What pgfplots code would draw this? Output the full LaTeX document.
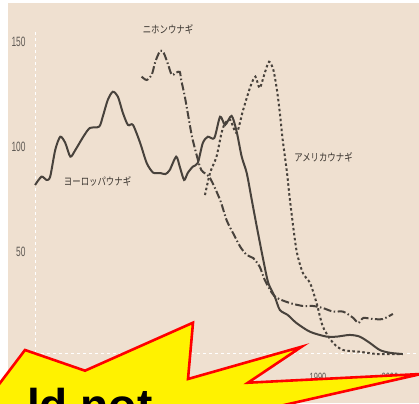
\documentclass[border=0pt]{standalone}
\usepackage{fontspec}
\setmainfont{Liberation Sans}
\newfontfamily\jpfont[FakeStretch=0.8]{Noto Sans CJK JP}
\newfontfamily\narrowfont[FakeStretch=0.62]{Liberation Sans}
\usepackage{pgfplots}
\pgfplotsset{compat=1.18}
\definecolor{bg}{RGB}{239,224,208}
\definecolor{ink}{RGB}{72,66,60}
\definecolor{lbl}{RGB}{55,50,45}
\definecolor{tickc}{RGB}{95,90,85}
\begin{document}
\begin{tikzpicture}[x=1pt,y=1pt]
\useasboundingbox (0,0) rectangle (419,403);
\clip (0,0) rectangle (419,403);
\fill[white] (0,0) rectangle (419,403);
\fill[bg] (8,0) rectangle (419,400);
\begin{axis}[
  at={(35pt,49.5pt)}, anchor=south west, scale only axis,
  width=384pt, height=323.5pt,
  xmin=1950.69, xmax=2004.03, ymin=1.67, ymax=155.71,
  axis x line=bottom, axis y line=left,
  axis line style={white, dashed, line width=0.8pt, -},
  ytick={50,100,150}, xtick={1990,2000},
  xticklabels={1990,2000},
  major tick length=0pt,
  /pgf/number format/assume math mode=true,
  yticklabel style={font=\narrowfont\fontsize{13.5}{13.5}\selectfont, text=tickc, anchor=east, xshift=-6pt},
  xticklabel style={font=\narrowfont\fontsize{12}{12}\selectfont, text=tickc, anchor=north, yshift=-16pt},
  clip=false,
]
% European eel (solid)
\addplot[ink, line width=2pt, smooth, tension=0.45] coordinates {
(1950.7,81.9) (1951.6,85.9) (1952.3,84.3) (1952.8,85.9) (1953.5,98.6) (1954.2,104.9)
(1954.9,101.9) (1955.6,95.4) (1956.3,98.6) (1957.4,104.9) (1958.3,109.0) (1959.6,109.7)
(1960.1,114.4) (1960.8,122.4) (1961.5,126.3) (1962.2,124.0) (1962.9,116.2) (1963.6,110.5)
(1964.3,110.5) (1965.3,101.9) (1966.2,92.4) (1967.1,87.8) (1968.1,87.6) (1968.8,87.1)
(1969.4,89.0) (1970.3,95.4) (1970.8,90.6) (1971.4,84.3) (1971.9,87.6) (1972.6,90.6)
(1973.3,92.4) (1974.0,101.9) (1974.7,104.9) (1975.6,104.3) (1976.4,114.4) (1977.1,110.5)
(1978.0,114.8) (1978.7,107.3) (1979.4,95.4) (1980.1,87.6) (1980.8,74.8) (1981.5,62.0)
(1982.4,46.2) (1983.1,35.2) (1984.0,28.7) (1984.7,22.4) (1985.8,20.0) (1987.0,16.2)
(1988.9,12.0) (1991.2,9.7) (1992.6,9.7) (1994.4,10.5) (1995.8,9.7) (1997.2,6.7)
(1998.6,3.3) (2000.0,2.0) (2001.8,1.4)
};
% Japanese eel (dash-dot)
\addplot[ink, line width=2pt, smooth, tension=0.45, dash pattern=on 8pt off 2.5pt on 1.5pt off 2.5pt] coordinates {
(1965.5,133.5) (1966.2,131.9) (1966.9,134.3) (1967.4,140.6) (1968.1,145.9) (1968.6,144.6)
(1969.2,139.0) (1969.7,134.3) (1970.3,135.4) (1970.8,135.8) (1971.0,131.9) (1971.5,124.0)
(1972.0,114.4) (1972.5,104.9) (1973.2,95.4) (1973.8,89.0) (1975.0,85.2) (1976.4,74.8)
(1977.3,65.2) (1978.2,59.0) (1979.2,52.5) (1980.1,48.6) (1981.0,47.1) (1981.9,43.0)
(1982.6,36.7) (1983.6,30.5) (1984.3,28.1) (1986.1,25.7) (1987.9,24.3) (1989.3,24.3)
(1990.7,23.3) (1992.1,21.6) (1993.5,21.6) (1994.9,18.6) (1995.6,16.2) (1996.3,18.6)
(1997.6,18.1) (1999.0,18.1) (2000.4,20.5)
};
% American eel (dotted)
\addplot[ink, line width=2pt, smooth, tension=0.45, dash pattern=on 2.5pt off 2.5pt] coordinates {
(1974.3,77.1) (1975.0,87.6) (1975.9,95.4) (1976.6,106.7) (1977.1,111.4) (1977.8,112.9)
(1978.7,106.7) (1979.6,117.6) (1980.6,128.7) (1981.3,133.5) (1981.9,128.1) (1982.6,135.2)
(1983.2,140.6) (1983.8,136.7) (1984.3,127.1) (1984.7,116.2) (1985.1,103.3) (1985.7,87.6)
(1986.1,74.8) (1987.0,51.0) (1987.9,40.0) (1988.9,35.2) (1989.8,25.7) (1990.7,14.3)
(1992.1,6.7) (1993.5,3.3) (1995.8,2.5) (1998.2,1.4) (2000.4,1.4) (2001.4,1.4)
};
\node[font=\jpfont\fontsize{10.5}{11}\selectfont, text=lbl] at (axis cs:1969.17,156.2) {ニホンウナギ};
\node[font=\jpfont\fontsize{10.5}{11}\selectfont, text=lbl] at (axis cs:1959.38,83.8) {ヨーロッパウナギ};
\node[font=\jpfont\fontsize{10.5}{11}\selectfont, text=lbl] at (axis cs:1990.76,95.2) {アメリカウナギ};
\end{axis}
% burst overlay
\filldraw[fill=yellow, draw=red, line width=2.6pt, line join=miter]
  (-5,13.4) -- (25,53) -- (85,32.3) -- (193,80.3) -- (188,24) -- (301.7,56.3)
  -- (248,20.3) -- (421,29) -- (270,-5.2) -- (-5,-8) -- cycle;
\node[anchor=base west, inner sep=0pt, font=\bfseries\fontsize{46}{46}\selectfont] at (27,-18) {ld not};
\end{tikzpicture}
\end{document}
